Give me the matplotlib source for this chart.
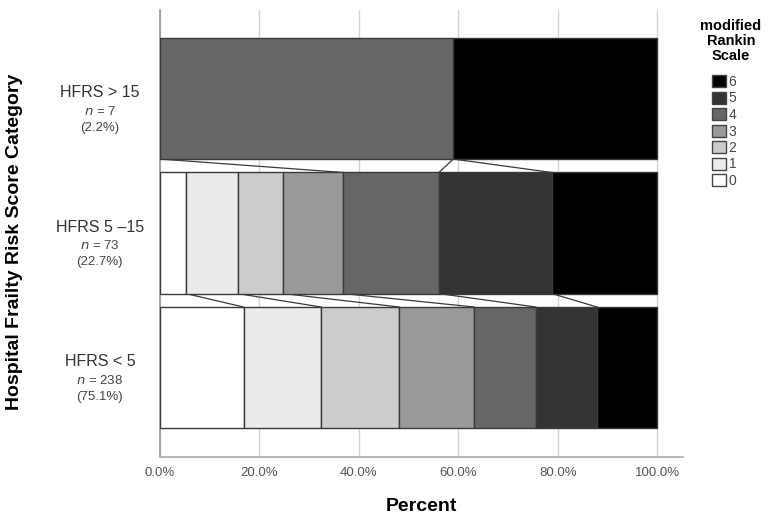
import matplotlib
matplotlib.use('Agg')
import matplotlib.pyplot as plt
from matplotlib.patches import Patch
import numpy as np

plt.rcParams['font.family'] = ['Liberation Sans', 'DejaVu Sans']

# categories from bottom to top
groups = ['HFRS < 5', 'HFRS 5 \u201315', 'HFRS > 15']
group_n = ['238', '73', '7']
group_pct = ['(75.1%)', '(22.7%)', '(2.2%)']

mrs_levels = ['0', '1', '2', '3', '4', '5', '6']
mrs_colors = ['#ffffff', '#ebebeb', '#cccccc', '#999999', '#666666', '#333333', '#000000']

# percent of each group in mRS 0..6
pct_low = [16.8, 15.6, 15.7, 15.1, 12.4, 12.3, 12.1]
pct_mid = [5.2, 10.4, 9.2, 12.1, 19.2, 22.7, 21.2]
pct_high = [0.0, 0.0, 0.0, 0.0, 59.0, 0.0, 41.0]

data = np.array([pct_low, pct_mid, pct_high])
cum = np.cumsum(data, axis=1)
starts = cum - data

fig = plt.figure(figsize=(7.68, 5.16), dpi=100)
ax = fig.add_axes([160/768, 59/516, 523/768, 447/516])

bar_h = 0.9
ypos = np.arange(len(groups))
for i in range(len(groups)):
    for k in range(len(mrs_levels)):
        if data[i, k] <= 0:
            continue
        ax.barh(ypos[i], data[i, k], left=starts[i, k], height=bar_h,
                color=mrs_colors[k], edgecolor='#3a3a3a', linewidth=1.0, zorder=3)

# connecting lines between neighbouring bars (cumulative boundaries)
for i in range(len(groups) - 1, 0, -1):
    up, lo = i, i - 1
    for k in range(1, len(mrs_levels)):
        if data[up, k - 1] <= 0 and data[up, k] <= 0:
            continue
        ax.plot([cum[up, k - 1], cum[lo, k - 1]],
                [ypos[up] - bar_h / 2, ypos[lo] + bar_h / 2],
                color='#3a3a3a', linewidth=0.9, zorder=2)

ax.set_xlim(0, 105.2)
ax.set_ylim(-0.665, 2.658)
ax.set_xticks([0, 20, 40, 60, 80, 100])
ax.set_xticklabels(['0.0%', '20.0%', '40.0%', '60.0%', '80.0%', '100.0%'],
                   fontsize=9.5, color='#555555')
ax.tick_params(axis='x', length=0, pad=7)
ax.set_yticks([])
ax.grid(axis='x', color='#d4d4d4', linewidth=1.0, zorder=0)
ax.set_axisbelow(True)
for s in ['top', 'right']:
    ax.spines[s].set_visible(False)
ax.spines['left'].set_color('#999999')
ax.spines['bottom'].set_color('#aaaaaa')
ax.spines['left'].set_linewidth(1.2)
ax.spines['bottom'].set_linewidth(1.2)

ax.set_xlabel('Percent', fontsize=14, fontweight='bold', labelpad=14)

# group labels on the left
trans = ax.get_yaxis_transform()
for i in range(len(groups)):
    ax.annotate(groups[i], xy=(-0.115, ypos[i]), xycoords=trans,
                xytext=(0, 4), textcoords='offset points',
                ha='center', va='center', fontsize=11.5, color='#333333')
    ax.annotate('$\\it{n}$ = ' + group_n[i], xy=(-0.115, ypos[i]), xycoords=trans,
                xytext=(0, -9), textcoords='offset points',
                ha='center', va='center', fontsize=9.5, color='#444444')
    ax.annotate(group_pct[i], xy=(-0.115, ypos[i]), xycoords=trans,
                xytext=(0, -21), textcoords='offset points',
                ha='center', va='center', fontsize=9.5, color='#444444')

fig.text(15/768, 1 - 242/516, 'Hospital Frailty Risk Score Category', rotation=90,
         ha='center', va='center', fontsize=14, fontweight='bold')

# legend
fig.text(731/768, 1 - 41/516, 'modified\nRankin\nScale', ha='center', va='center',
         multialignment='center', linespacing=1.05, fontsize=10.5, fontweight='bold')
handles = [Patch(facecolor=mrs_colors[k], edgecolor='#444444', linewidth=1.0)
           for k in range(len(mrs_levels) - 1, -1, -1)]
labels = [mrs_levels[k] for k in range(len(mrs_levels) - 1, -1, -1)]
leg = fig.legend(handles, labels, loc='upper left',
                 bbox_to_anchor=(712/768, 1 - 75/516),
                 frameon=False, fontsize=10, handlelength=1.0, handleheight=1.0,
                 handletextpad=0.2, labelspacing=0.18, borderaxespad=0, borderpad=0)
for t in leg.get_texts():
    t.set_color('#444444')

fig.savefig('out.png', dpi=100)
